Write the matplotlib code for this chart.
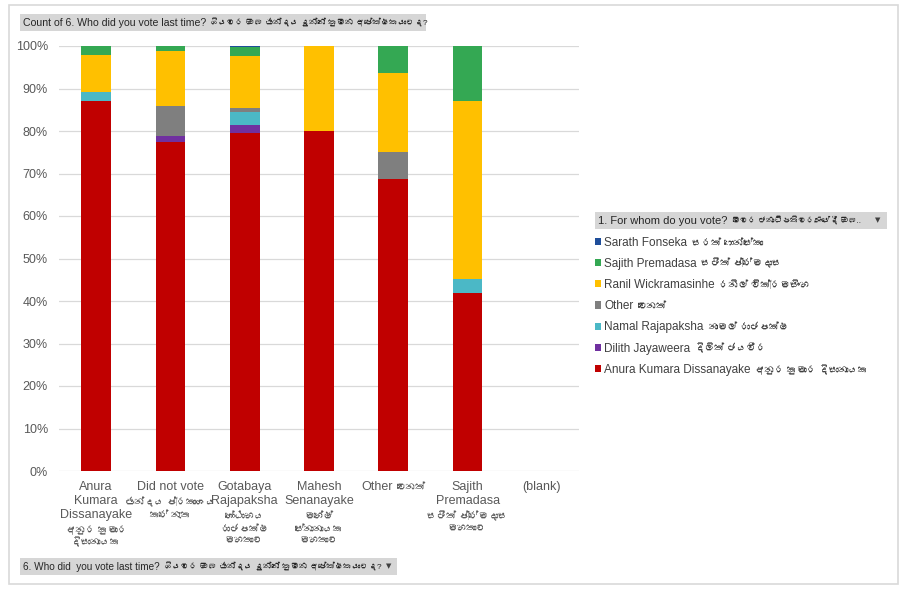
import matplotlib
matplotlib.use("Agg")
import matplotlib.pyplot as plt
from matplotlib import font_manager, ft2font
from matplotlib.patches import Rectangle
from matplotlib.ticker import PercentFormatter
import numpy as np

# categories on the x axis (English part / Sinhala part)
categories_en = ["Anura\nKumara\nDissanayake", "Did not vote", "Gotabaya\nRajapaksha",
                 "Mahesh\nSenanayake", "Other", "Sajith\nPremadasa", "(blank)"]
categories_si = ["අනුර කුමාර\nදිසානායක", "ඡන්දය ප්‍රකාශය\nකරේ නැත", "ගෝඨාභය\nරාජපක්ෂ\nමහතාට",
                 "මහේෂ්\nසේනානායක\nමහතාට", "වෙනත්", "සජිත් ප්‍රේමදාස\nමහතාට", ""]

# series, bottom to top of each stack (share of each column)
anura = [0.871, 0.774, 0.795, 0.80, 0.6875, 0.4194, 0]
dilith = [0, 0.014, 0.019, 0, 0, 0, 0]
namal = [0.021, 0, 0.031, 0, 0, 0.0323, 0]
other = [0, 0.072, 0.010, 0, 0.0625, 0, 0]
ranil = [0.087, 0.128, 0.121, 0.20, 0.1875, 0.4194, 0]
sajith = [0.021, 0.012, 0.022, 0, 0.0625, 0.1290, 0]
sarath = [0, 0, 0.002, 0, 0, 0, 0]

series_en = ["Anura Kumara Dissanayake", "Dilith Jayaweera", "Namal Rajapaksha", "Other",
             "Ranil Wickramasinhe", "Sajith Premadasa", "Sarath Fonseka"]
series_si = ["අනුර කුමාර දිසානායක", "දිලිත් ජයවීර", "නාමල් රාජපක්ෂ", "වෙනත්",
             "රනිල් වික්‍රමසිංහ", "සජිත් ප්‍රේමදාස", "සරත් ෆොන්සේකා"]
series_vals = [anura, dilith, namal, other, ranil, sajith, sarath]
colors = ["#C00000", "#7030A0", "#4BB8C6", "#7F7F7F", "#FFC000", "#34A853", "#1F4E9A"]

title_en = "Count of 6. Who did you vote last time?"
title_si = "ගියවර ඔබ ඡන්දය දුන්නේ කුමන අපේක්ෂකයාටද?"
legend_title_en = "1. For whom do you vote?"
legend_title_si = "මෙවර ජනාධිපතිවරණයේදී ඔබ.."
axis_field_en = "6. Who did  you vote last time?"
axis_field_si = "ගියවර ඔබ ඡන්දය දුන්නේ කුමන අපේක්ෂකයාටද?"


def find_font(ch):
    for f in font_manager.fontManager.ttflist:
        try:
            if ord(ch) in ft2font.FT2Font(f.fname).get_charmap():
                return f.name
        except Exception:
            pass
    return None


fams = ["Liberation Sans"]
si_font = find_font("අ")
if si_font:
    fams.append(si_font)
fams.append("DejaVu Sans")
plt.rcParams["font.family"] = fams

W, H = 910, 593
fig = plt.figure(figsize=(W / 100, H / 100), dpi=100)


def fx(px):
    return px / W


def fy(py):
    return 1 - py / H


def box(x0, y0, x1, y1, **kw):
    fig.add_artist(Rectangle((fx(x0), fy(y1)), fx(x1) - fx(x0), fy(y0) - fy(y1),
                             transform=fig.transFigure, **kw))


def after(artist, s, size, color="#262626"):
    # Sinhala part placed right after an English text
    fig.add_artist(plt.Annotation(s, xy=(1, 0.5), xycoords=artist, xytext=(3, 0),
                                  textcoords="offset points", va="center", ha="left",
                                  fontsize=size, color=color, zorder=10))


# outer frame
box(9, 5, 898, 584, facecolor="none", edgecolor="#D9D9D9", lw=1.2)

ax = fig.add_axes([fx(59), fy(471), fx(579) - fx(59), fy(46) - fy(471)])
x = np.arange(len(categories_en))
bottom = np.zeros(len(x))
handles = []
for name, vals, c in zip(series_en, series_vals, colors):
    b = ax.bar(x, vals, 0.4, bottom=bottom, color=c, label=name, zorder=3)
    bottom += np.array(vals)
    handles.append(b)

ax.set_xlim(-0.5, len(x) - 0.5)
ax.set_ylim(0, 1)
ax.set_yticks(np.arange(0, 1.01, 0.1))
ax.yaxis.set_major_formatter(PercentFormatter(1.0, decimals=0))
ax.grid(axis="y", color="#D9D9D9", lw=0.9, zorder=0)
for s in ax.spines.values():
    s.set_visible(False)
ax.tick_params(axis="y", length=0, labelsize=9, labelcolor="#595959", pad=8)
ax.set_xticks([])

for i, (en, si) in enumerate(zip(categories_en, categories_si)):
    n = en.count("\n") + 1
    t = ax.annotate(en, xy=(i, 0), xycoords=("data", "axes fraction"), xytext=(0, -7),
                    textcoords="offset points", ha="center", va="top", fontsize=9,
                    color="#595959", linespacing=1.22)
    if si and n == 1 and len(en) < 8:
        # short label: Sinhala follows on the same line
        t.set_horizontalalignment("left")
        t.set_position((-23, -7))
        after(t, si, 7, "#595959")
    elif si:
        ax.annotate(si, xy=(i, 0), xycoords=("data", "axes fraction"),
                    xytext=(0, -8.5 - 10.1 * n), textcoords="offset points",
                    ha="center", va="top", fontsize=7, color="#595959", linespacing=1.3)

# title field button
box(20, 14, 426, 31, facecolor="#D6D6D6", edgecolor="none")
t = fig.text(fx(23), fy(22.5), title_en, fontsize=7.6, color="#262626", va="center", ha="left")
after(t, title_si, 6.0)

# axis field button
box(20, 558, 397, 575, facecolor="#D6D6D6", edgecolor="none")
t = fig.text(fx(23), fy(566.5), axis_field_en, fontsize=7.2, color="#262626", va="center", ha="left")
after(t, axis_field_si, 6.0)
fig.text(fx(389), fy(566.5), "▼", fontsize=5, color="#404040", va="center", ha="center",
         family="DejaVu Sans")

# legend field button
box(595, 212, 887, 229, facecolor="#D6D6D6", edgecolor="none")
t = fig.text(fx(598), fy(220.5), legend_title_en, fontsize=8, color="#262626", va="center", ha="left")
after(t, legend_title_si, 5.8)
fig.text(fx(878), fy(220.5), "▼", fontsize=5, color="#404040", va="center", ha="center",
         family="DejaVu Sans")

leg = fig.legend(handles[::-1], series_en[::-1], loc="upper left",
                 bbox_to_anchor=(fx(595), fy(236.5)), frameon=False, fontsize=8.5,
                 labelcolor="#404040", handlelength=0.55, handleheight=0.55,
                 handletextpad=0.25, labelspacing=0.78, borderaxespad=0, borderpad=0)
for txt, si in zip(leg.get_texts(), series_si[::-1]):
    after(txt, si, 7, "#404040")

fig.canvas.draw()
fig.savefig("out.png", dpi=100)
